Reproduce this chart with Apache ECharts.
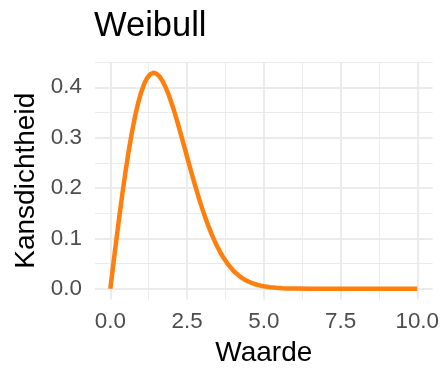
<!DOCTYPE html>
<html>
<head>
<meta charset="utf-8">
<script src="https://cdn.jsdelivr.net/npm/echarts@6/dist/echarts.min.js"></script>
<style>html,body{margin:0;padding:0;background:#fff}#c{width:447px;height:384px}</style>
</head>
<body>
<div id="c"></div>
<script>
const xValues = [0,0.1,0.2,0.3,0.4,0.5,0.6,0.7,0.8,0.9,1.0,1.1,1.2,1.3,1.4,1.5,1.6,1.7,1.8,1.9,2.0,2.1,2.2,2.3,2.4,2.5,2.6,2.7,2.8,2.9,3.0,3.1,3.2,3.3,3.4,3.5,3.6,3.7,3.8,3.9,4.0,4.1,4.2,4.3,4.4,4.5,4.6,4.7,4.8,4.9,5.0,5.2,5.4,5.6,5.8,6.0,6.5,7.0,7.5,8.0,8.5,9.0,9.5,10.0];
const densities = [0,0.04988,0.09900,0.14666,0.19216,0.23485,0.27418,0.30965,0.34086,0.36751,0.38940,0.40643,0.41861,0.42602,0.42884,0.42734,0.42183,0.41271,0.40037,0.38529,0.36788,0.34864,0.32802,0.30644,0.28432,0.26201,0.23988,0.21819,0.19720,0.17712,0.15810,0.14025,0.12368,0.10842,0.09449,0.08185,0.07049,0.06036,0.05140,0.04352,0.03663,0.03066,0.02553,0.02113,0.01740,0.01424,0.01160,0.00939,0.00756,0.00606,0.00483,0.00301,0.00184,0.00110,0.00065,0.00037,0.00008,0.00002,0,0,0,0,0,0];
const xTicks = [0, 2.5, 5, 7.5, 10];
const xMinor = [1.25, 3.75, 6.25, 8.75];
const yTicks = [0, 0.1, 0.2, 0.3, 0.4];
const yMinor = [0.05, 0.15, 0.25, 0.35, 0.45];
const titleText = 'Weibull';
const xName = 'Waarde';
const yName = 'Kansdichtheid';

const FONT = '"Liberation Sans", Arial, sans-serif';
const gridColor = '#EBEBEB';
const lineData = [];
xTicks.forEach(v => lineData.push({xAxis: v, lineStyle: {width: 2}}));
xMinor.forEach(v => lineData.push({xAxis: v, lineStyle: {width: 1}}));
yTicks.forEach(v => lineData.push({yAxis: v, lineStyle: {width: 2}}));
yMinor.forEach(v => lineData.push({yAxis: v, lineStyle: {width: 1}}));

const chart = echarts.init(document.getElementById('c'), null, {renderer: 'canvas'});
chart.setOption({
  backgroundColor: '#ffffff',
  animation: false,
  title: {
    text: titleText, left: 94, top: 9, padding: 0,
    textStyle: {fontFamily: FONT, fontSize: 34.5, fontWeight: 'normal', color: '#000000'}
  },
  grid: {left: 95, right: 14.4, top: 62, bottom: 84.5, containLabel: false},
  xAxis: {
    type: 'value', min: -0.5, max: 10.5,
    name: xName, nameLocation: 'middle', nameGap: 40,
    nameTextStyle: {fontFamily: FONT, fontSize: 28, color: '#000000'},
    axisLine: {show: false}, axisTick: {show: false}, splitLine: {show: false},
    axisLabel: {
      customValues: xTicks, margin: 11,
      fontFamily: FONT, fontSize: 22.4, color: '#4D4D4D',
      formatter: v => Number(v).toFixed(1)
    }
  },
  yAxis: {
    type: 'value', min: -0.0214, max: 0.4503,
    name: yName, nameLocation: 'middle', nameGap: 54, nameRotate: 90,
    nameTextStyle: {fontFamily: FONT, fontSize: 28, color: '#000000'},
    axisLine: {show: false}, axisTick: {show: false}, splitLine: {show: false},
    axisLabel: {
      customValues: yTicks, margin: 13,
      fontFamily: FONT, fontSize: 22.4, color: '#4D4D4D',
      formatter: v => Number(v).toFixed(1)
    }
  },
  series: [
    {
      type: 'line', data: [], z: 1, silent: true,
      markLine: {
        z: 1, silent: true, symbol: ['none', 'none'], label: {show: false},
        lineStyle: {color: gridColor, type: 'solid'},
        data: lineData
      }
    },
    {
      type: 'line', z: 10,
      data: xValues.map((x, i) => [x, densities[i]]),
      showSymbol: false, smooth: false,
      lineStyle: {color: '#FF7F0E', width: 4.5, cap: 'butt', join: 'round'}
    }
  ]
});
</script>
</body>
</html>
